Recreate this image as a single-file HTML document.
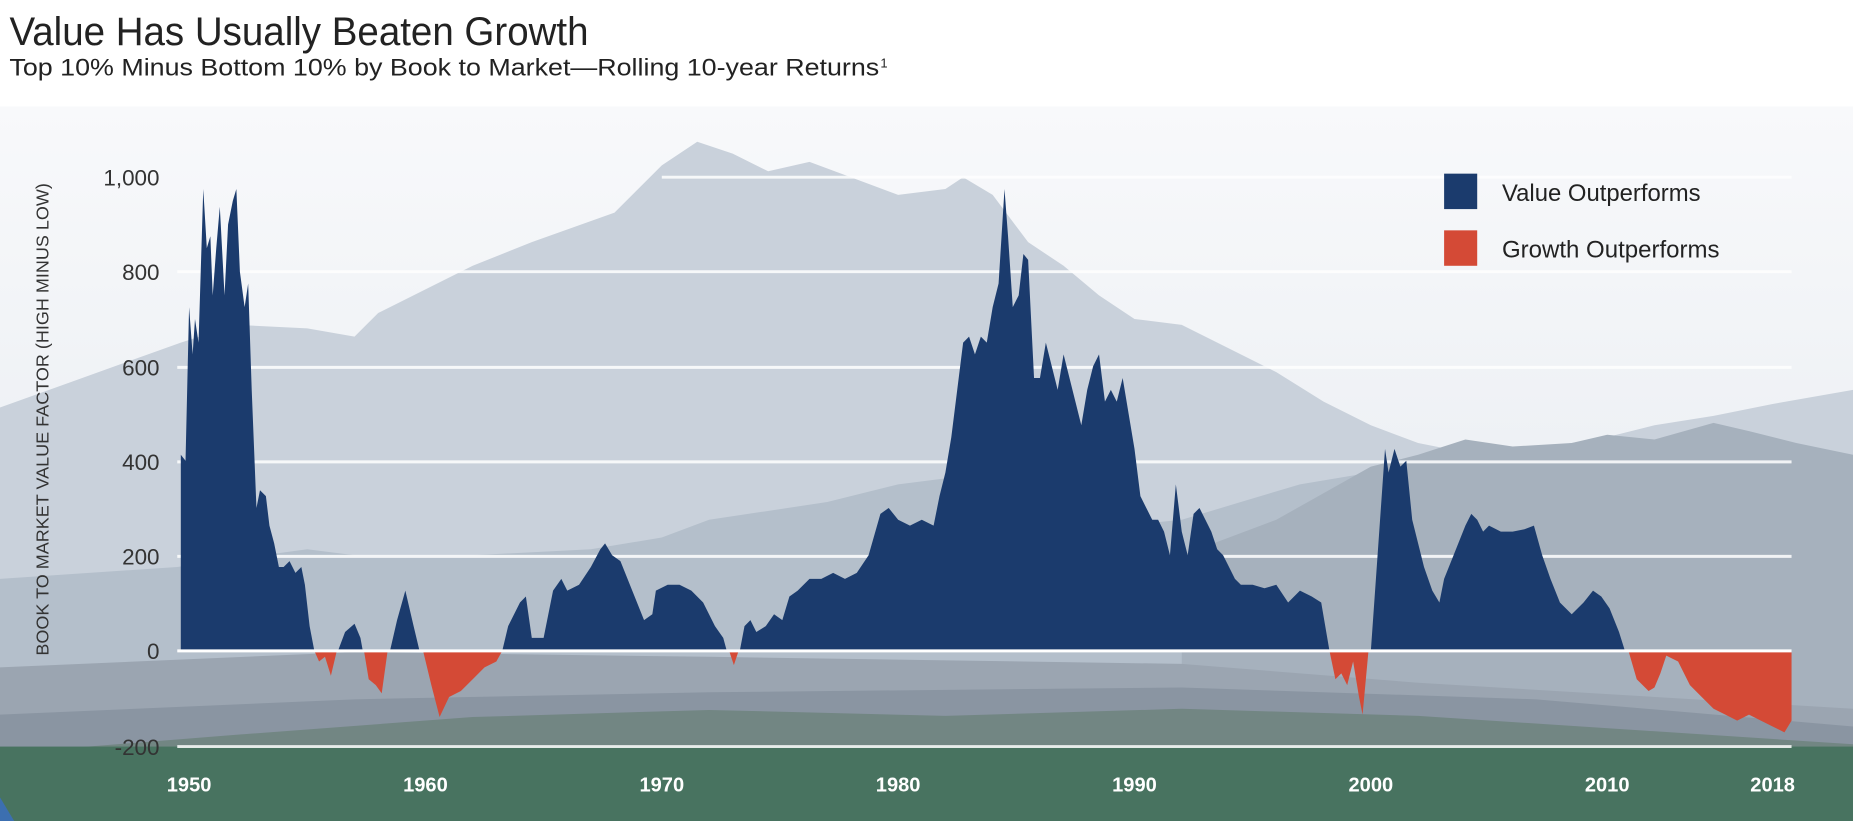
<!DOCTYPE html>
<html><head><meta charset="utf-8"><style>
html,body{margin:0;padding:0;background:#fff;}
svg{display:block}
text{font-family:"Liberation Sans Narrow","Liberation Sans",sans-serif;}
</style></head><body>
<svg width="1853" height="821" viewBox="0 0 1568 695" preserveAspectRatio="none" xmlns="http://www.w3.org/2000/svg">
<defs><linearGradient id="sky" x1="0" y1="0" x2="0" y2="1"><stop offset="0" stop-color="#f8f9fb"/><stop offset="1" stop-color="#e3e8ee"/></linearGradient></defs>
<rect x="0" y="90" width="1568" height="605" fill="url(#sky)"/>
<rect x="0" y="0" width="1568" height="90" fill="#fff"/>
<path d="M0,345 L153,290 200,275 260,278 300,285 320,265 400,225 450,205 520,180 560,140 590,120 620,130 650,145 685,137 720,150 760,165 800,160 815,150 840,165 870,205 900,225 930,250 960,270 1000,275 1040,295 1080,315 1120,340 1160,360 1200,375 1250,385 1300,380 1360,370 1400,360 1450,352 1500,342 1568,330 1568,695 0,695Z" fill="#c9d1db"/>
<path d="M0,490 L150,480 260,465 300,470 400,470 500,465 560,455 600,440 700,425 760,410 800,405 850,415 900,430 950,445 1000,440 1050,425 1100,410 1160,400 1568,420 1568,695 0,695Z" fill="#b4bfcb"/>
<path d="M1000,470 L1080,440 1160,395 1200,385 1240,372 1280,378 1330,375 1360,368 1400,372 1450,358 1480,365 1520,375 1568,385 1568,695 1000,695Z" fill="#a6b1bd"/>
<path d="M0,565 L300,552 600,556 1000,562 1200,578 1568,600 1568,695 0,695Z" fill="#9ba5b1"/>
<path d="M0,605 L300,592 600,586 1000,582 1300,592 1568,615 1568,695 0,695Z" fill="#8a95a2"/>
<path d="M0,638 L200,622 400,607 600,601 800,606 1000,600 1200,606 1568,630 1568,695 0,695Z" fill="#728683"/>
<rect x="0" y="632" width="1568" height="63" fill="#487360"/>
<path d="M0,675 L12,695 0,695Z" fill="#3c6fb0"/>
<g stroke="#fff" stroke-width="2.5" opacity="0.85">
<line x1="560" y1="150" x2="1516" y2="150"/>
<line x1="150" y1="230" x2="1516" y2="230"/>
<line x1="150" y1="311" x2="1516" y2="311"/>
<line x1="150" y1="391" x2="1516" y2="391"/>
<line x1="150" y1="471" x2="1516" y2="471"/>
<line x1="150" y1="632" x2="1516" y2="632"/>
</g>
<path fill="#d44a36" d="M266,551 L270,560 275,556 280,572 285,551Z M308,551 L312,575 318,580 323,587 328,551Z M358,551 L365,580 372,607 380,590 390,585 400,575 410,565 420,560 425,551Z M617,551 L621,563 625,551Z M1125,551 L1130,575 1135,570 1140,580 1145,560 1150,590 1153,605 1158,551Z M1378,551 L1385,575 1395,585 1400,582 1405,570 1410,555 1420,560 1430,580 1440,590 1450,600 1460,605 1470,610 1480,605 1490,610 1500,615 1510,620 1516,610 1516,551Z"/>
<path fill="#1b3b6d" d="M153,551 L153,385 157,390 160,260 163,300 165,270 168,290 172,160 175,210 178,200 180,250 183,210 186,175 190,250 193,190 197,170 200,160 203,230 207,260 210,240 213,330 217,430 220,415 225,420 228,445 232,460 236,480 240,480 245,475 250,485 255,480 258,495 262,530 266,551Z
M286,551 L292,535 300,528 305,540 307,551Z
M330,551 L336,525 343,500 350,530 355,551Z
M425,551 L430,530 440,510 445,505 450,540 460,540 468,500 475,490 480,500 490,495 500,480 508,465 512,460 518,470 525,475 535,500 545,525 552,520 555,500 565,495 575,495 585,500 595,510 605,530 612,540 615,551Z
M626,551 L630,530 635,525 640,535 648,530 655,520 662,525 668,505 675,500 685,490 695,490 705,485 715,490 725,485 735,470 745,435 752,430 760,440 770,445 780,440 790,445 795,420 800,400 805,370 810,330 815,290 820,285 825,300 830,285 835,290 840,260 845,240 850,160 853,200 857,260 862,250 866,215 870,220 875,320 880,320 885,290 890,310 895,330 900,300 905,320 910,340 915,360 920,330 925,310 930,300 935,340 940,330 945,340 950,320 955,350 960,380 965,420 970,430 975,440 980,440 985,450 990,470 995,410 1000,450 1005,470 1010,435 1015,430 1020,440 1025,450 1030,465 1035,470 1040,480 1045,490 1050,495 1060,495 1070,498 1080,495 1090,510 1100,500 1110,505 1118,510 1125,551Z
M1160,551 L1165,480 1172,380 1175,400 1180,380 1185,395 1190,390 1195,440 1200,460 1205,480 1212,500 1218,510 1222,490 1230,470 1240,445 1245,435 1250,440 1255,450 1260,445 1270,450 1280,450 1290,448 1298,445 1305,470 1312,490 1320,510 1330,520 1340,510 1348,500 1355,505 1362,515 1370,535 1375,551Z"/>
<line x1="150" y1="551" x2="1516" y2="551" stroke="#fff" stroke-width="2.5"/>
<g font-size="19" fill="#333" text-anchor="end">
<text x="135" y="157">1,000</text><text x="135" y="237">800</text><text x="135" y="318">600</text>
<text x="135" y="398">400</text><text x="135" y="478">200</text><text x="135" y="558">0</text><text x="135" y="639">-200</text>
</g>
<text transform="translate(41,355) rotate(-90)" font-size="15" fill="#333" text-anchor="middle" font-family="Liberation Sans, sans-serif" textLength="400" lengthAdjust="spacingAndGlyphs">BOOK TO MARKET VALUE FACTOR (HIGH MINUS LOW)</text>
<g font-size="17" fill="#fff" text-anchor="middle" font-weight="bold">
<text x="160" y="670">1950</text><text x="360" y="670">1960</text><text x="560" y="670">1970</text>
<text x="760" y="670">1980</text><text x="960" y="670">1990</text><text x="1160" y="670">2000</text>
<text x="1360" y="670">2010</text><text x="1500" y="670">2018</text>
</g>
<rect x="1222" y="147" width="28" height="30" fill="#1b3b6d"/>
<rect x="1222" y="195" width="28" height="30" fill="#d44a36"/>
<text x="1271" y="170" font-size="20" fill="#222" textLength="168" lengthAdjust="spacingAndGlyphs">Value Outperforms</text>
<text x="1271" y="218" font-size="20" fill="#222" textLength="184" lengthAdjust="spacingAndGlyphs">Growth Outperforms</text>
<text x="8" y="38" font-size="34" fill="#222" textLength="490" lengthAdjust="spacingAndGlyphs">Value Has Usually Beaten Growth</text>
<text x="8" y="64" font-size="20" fill="#222" textLength="736" lengthAdjust="spacingAndGlyphs">Top 10% Minus Bottom 10% by Book to Market—Rolling 10-year Returns</text>
<text x="745" y="57" font-size="11" fill="#222">1</text>
</svg>
</body></html>
